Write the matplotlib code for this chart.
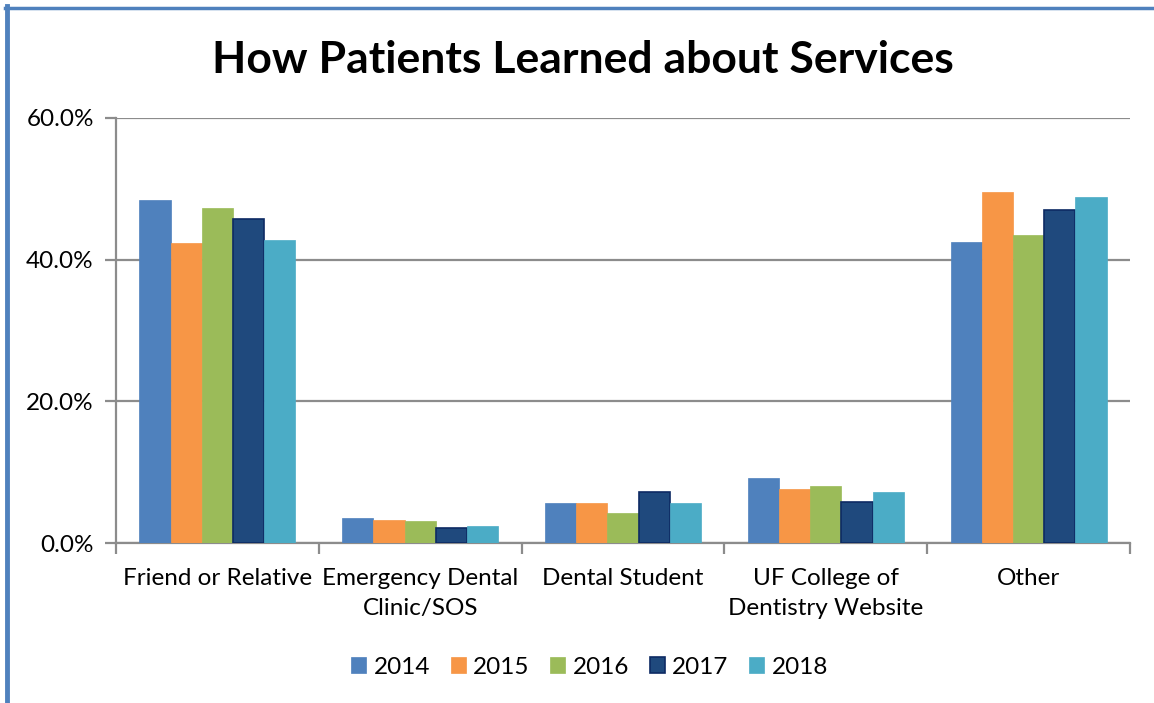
import numpy as np
import matplotlib.pyplot as plt
from matplotlib.lines import Line2D
from matplotlib.ticker import FuncFormatter

plt.rcParams['font.family'] = ['Lato', 'DejaVu Sans']

categories = ["Friend or Relative", "Emergency Dental\nClinic/SOS", "Dental Student",
              "UF College of\nDentistry Website", "Other"]
years = ["2014", "2015", "2016", "2017", "2018"]
pct_2014 = [48.4, 3.5, 5.6, 9.2, 42.5]
pct_2015 = [42.4, 3.2, 5.6, 7.6, 49.6]
pct_2016 = [47.3, 3.1, 4.2, 8.0, 43.5]
pct_2017 = [45.8, 2.1, 7.2, 5.8, 47.0]
pct_2018 = [42.8, 2.4, 5.6, 7.2, 48.9]
series = [pct_2014, pct_2015, pct_2016, pct_2017, pct_2018]

colors = ["#4F81BD", "#F79646", "#9BBB59", "#1F497D", "#4BACC6"]
edges = ["#4F81BD", "#F79646", "#9BBB59", "#0D2A63", "#4BACC6"]

fig = plt.figure(figsize=(11.54, 7.03), dpi=100)
ax = fig.add_axes([116 / 1154, 1 - 543 / 703, (1130 - 116) / 1154, (543 - 118) / 703])

x = np.arange(len(categories))
w = 0.154
for i, vals in enumerate(series):
    ax.bar(x + (i - 2) * w, vals, w, color=colors[i], edgecolor=edges[i],
           linewidth=1.2 if i == 3 else 0.5, label=years[i], zorder=3)

ax.set_xlim(-0.5, len(categories) - 0.5)
ax.set_ylim(0, 60)
ax.set_yticks([0, 20, 40, 60])
ax.yaxis.set_major_formatter(FuncFormatter(lambda v, p: f"{v:.1f}%"))
ax.yaxis.grid(True, color="#8C8C8C", linewidth=1.6, zorder=0)
ax.set_axisbelow(True)

# category labels sit between boundary ticks
ax.set_xticks(x)
ax.set_xticklabels(categories, fontsize=17.5, linespacing=1.55)
ax.tick_params(axis="x", length=0, pad=18)
ax.set_xticks(np.arange(-0.5, len(categories)), minor=True)
ax.tick_params(axis="x", which="minor", length=8, width=1.6, color="#8C8C8C")
ax.tick_params(axis="y", length=8, width=1.6, color="#8C8C8C", labelsize=17.5, pad=8)

for side in ["top", "right"]:
    ax.spines[side].set_visible(False)
for side in ["left", "bottom"]:
    ax.spines[side].set_color("#8C8C8C")
    ax.spines[side].set_linewidth(1.6)

fig.text(0.505, 1 - 60 / 703, "How Patients Learned about Services", ha="center", va="center",
         fontsize=32, fontweight="bold")

ax.legend(loc="center", bbox_to_anchor=(0.467, (543 - 667) / (543 - 118)), ncol=5, frameon=False,
          fontsize=17.5, handlelength=0.62, handleheight=0.62, handletextpad=0.3, columnspacing=0.85)

# frame lines along the top and left edges
fig.add_artist(Line2D([6.5 / 1154, 6.5 / 1154], [0, 1 - 6 / 703], color="#4F81BD", linewidth=3.5))
fig.add_artist(Line2D([5 / 1154, 1], [1 - 7.5 / 703, 1 - 7.5 / 703], color="#4F81BD", linewidth=2.5))

fig.savefig("out.png", dpi=100, facecolor="white")
